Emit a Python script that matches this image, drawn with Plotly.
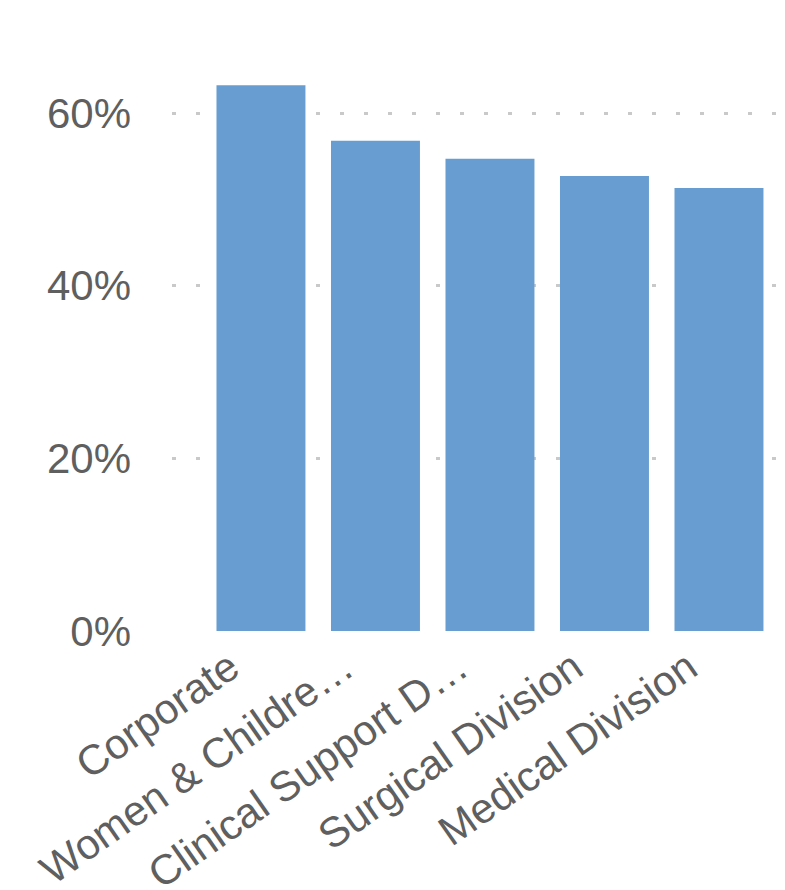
import plotly.graph_objects as go

categories = ["Corporate", "Women & Childre…", "Clinical Support D…", "Surgical Division", "Medical Division"]
values = [0.632, 0.568, 0.547, 0.527, 0.513]
y_tickvals = [0, 0.2, 0.4, 0.6]
y_ticktext = ["0%", "20%", "40%", "60%"]

# page has an 8px body margin, so the figure starts at (8, 8)
W, H = 777, 882
ml, mr, mt, mb = 164, 9, 2, 259
plot_w = W - ml - mr
plot_h = H - mt - mb
px_per_unit = 518 / 0.6
y_top = plot_h / px_per_unit

font_color = "#5f5f5f"

fig = go.Figure(
    go.Bar(
        x=list(range(len(categories))),
        y=values,
        marker=dict(color="#689dd2", line=dict(width=0)),
        width=0.777,
        hoverinfo="skip",
    )
)

fig.update_layout(
    template="none",
    width=W,
    height=H,
    margin=dict(l=ml, r=mr, t=mt, b=mb, pad=0),
    paper_bgcolor="white",
    plot_bgcolor="white",
    showlegend=False,
    font=dict(family="Liberation Sans, Arial, sans-serif", color=font_color),
    xaxis=dict(
        automargin=False,
        range=[-0.777, 4.498],
        tickmode="array",
        tickvals=list(range(len(categories))),
        ticktext=categories,
        tickangle=-35,
        tickfont=dict(size=42, color=font_color),
        showgrid=False,
        zeroline=False,
        showline=False,
        ticks="",
        ticklabelshift=-31,
        ticklabelstandoff=3,
    ),
    yaxis=dict(
        automargin=False,
        range=[0, y_top],
        tickmode="array",
        tickvals=y_tickvals,
        ticktext=y_ticktext,
        tickfont=dict(size=42, color=font_color),
        showgrid=True,
        gridcolor="#c9c9c9",
        gridwidth=3,
        griddash="4px,20px",
        zeroline=False,
        showline=False,
        ticks="",
        ticklabelstandoff=40,
    ),
)

fig.write_html("out.html")
